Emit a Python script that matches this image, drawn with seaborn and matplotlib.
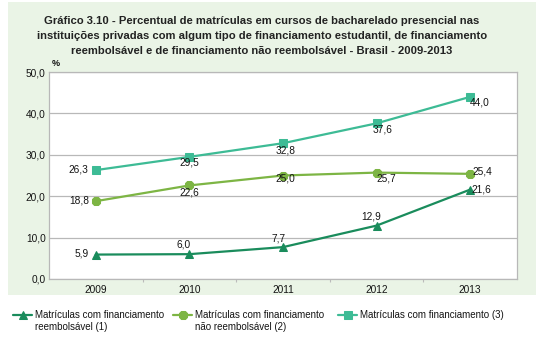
import matplotlib
matplotlib.use("Agg")
import matplotlib.pyplot as plt
import seaborn as sns
import pandas as pd
from matplotlib.patches import Rectangle
from matplotlib.ticker import FixedLocator

years = [2009, 2010, 2011, 2012, 2013]
reembolsavel = [5.9, 6.0, 7.7, 12.9, 21.6]
nao_reembolsavel = [18.8, 22.6, 25.0, 25.7, 25.4]
total = [26.3, 29.5, 32.8, 37.6, 44.0]
labels_l1 = ["Matrículas com financiamento",
             "Matrículas com financiamento",
             "Matrículas com financiamento (3)"]
labels_l2 = ["reembolsável (1)", "não reembolsável (2)", ""]
yticks = [0, 10, 20, 30, 40, 50]

title = ("Gráfico 3.10 - Percentual de matrículas em cursos de bacharelado presencial nas\n"
         "instituições privadas com algum tipo de financiamento estudantil, de financiamento\n"
         "reembolsável e de financiamento não reembolsável - Brasil - 2009-2013")

sns.set_theme(style="white")
plt.rcParams["font.family"] = ["Liberation Sans", "DejaVu Sans"]

colors = ["#1a8c5c", "#7db544", "#3dbb95"]
markers = ["^", "8", "s"]
txt = "#141414"

W, H = 547, 337
fig = plt.figure(figsize=(W / 100, H / 100), dpi=100)
fig.patch.set_facecolor("white")
fig.patches.append(Rectangle((8 / W, 1 - 295 / H), (536 - 8) / W, (295 - 2) / H,
                             transform=fig.transFigure, facecolor="#eaf4e6",
                             edgecolor="none", zorder=-10))

ax = fig.add_axes([49 / W, 1 - 279 / H, (517 - 49) / W, (279 - 72) / H])
ax.set_facecolor("white")

series = [reembolsavel, nao_reembolsavel, total]
for vals, c, m, lab in zip(series, colors, markers, labels_l1):
    df = pd.DataFrame({"ano": years, "valor": vals})
    sns.lineplot(data=df, x="ano", y="valor", ax=ax, color=c, marker=m,
                 markersize=6.3, markeredgecolor=c, linewidth=1.6, label=lab,
                 legend=False)

ax.set_xlim(2008.5, 2013.5)
ax.set_ylim(0, 50)
ax.set_yticks(yticks)
ax.set_yticklabels([f"{v:.1f}".replace(".", ",") for v in yticks])
ax.set_xticks(years)
ax.set_xticklabels([str(y) for y in years])
ax.xaxis.set_minor_locator(FixedLocator([2009.5, 2010.5, 2011.5, 2012.5]))
ax.tick_params(axis="x", which="minor", length=2, color="#bbbbbb", width=0.8, bottom=True)
ax.tick_params(axis="y", which="major", length=0, labelsize=7.3, labelcolor=txt, pad=2.5)
ax.tick_params(axis="x", which="major", length=0, labelsize=7.3, labelcolor=txt, pad=4)
ax.set_xlabel("")
ax.set_ylabel("")
ax.grid(axis="y", color="#b8b8b8", linewidth=0.9)
ax.grid(axis="x", visible=False)
for s in ax.spines.values():
    s.set_color("#b8b8b8")
    s.set_linewidth(0.9)

def fmt(v):
    return f"{v:.1f}".replace(".", ",")

# label offsets in pixels (dx, dy, ha)
offs = [
    [(-7, 1, "right"), (-6, 10, "center"), (-4, 9, "center"), (-5, 9, "center"), (1, 0, "left")],
    [(-7, 1, "right"), (0, -7, "center"), (2, -3, "center"), (10, -6, "center"), (2, 2, "left")],
    [(-7, 1, "right"), (0, -6, "center"), (3, -7, "center"), (6, -6, "center"), (9, -6, "center")],
]
for vals, off in zip(series, offs):
    for x, v, (dx, dy, ha) in zip(years, vals, off):
        ax.annotate(fmt(v), (x, v), xytext=(dx, dy), textcoords="offset pixels",
                    ha=ha, va="center", fontsize=7.3, color=txt)

fig.text(262 / W, 1 - 16 / H, title, ha="center", va="top", fontsize=8.1,
         fontweight="bold", color="#222222", linespacing=1.6)
fig.text(52 / W, 1 - 63 / H, "%", ha="left", va="center", fontsize=6.5,
         fontweight="bold", color=txt)

handles = ax.get_lines()
xs = [13, 173, 338]
legs = []
for h, lab, x in zip(handles, labels_l1, xs):
    lg = fig.legend([h], [lab], loc="center left", bbox_to_anchor=(x / W, 1 - 315 / H),
                    frameon=False, fontsize=7, handlelength=2.0, handletextpad=0.3,
                    borderpad=0, borderaxespad=0, markerscale=0.9)
    for t in lg.get_texts():
        t.set_color(txt)
    legs.append(lg)

fig.canvas.draw()
r = fig.canvas.get_renderer()
for lg, l2 in zip(legs, labels_l2):
    if l2:
        bb = lg.get_texts()[0].get_window_extent(r)
        fig.text(bb.x0 / W, 1 - 327 / H, l2, ha="left", va="center", fontsize=7, color=txt)

fig.savefig("out.png", dpi=100, facecolor="white")
